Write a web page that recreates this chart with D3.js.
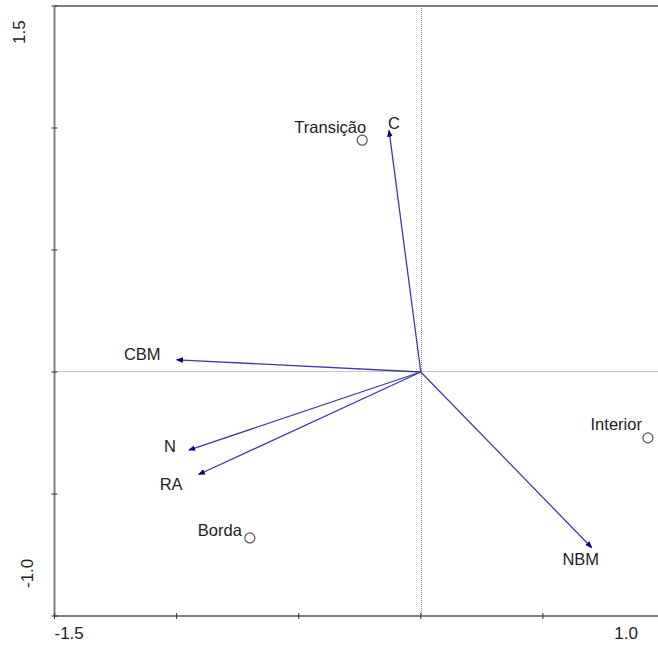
<!DOCTYPE html>
<html>
<head>
  <meta charset="utf-8">
  <title>Biplot</title>
  <script src="https://d3js.org/d3.v7.min.js"></script>
  <style>
    body { margin: 0; background: #fff; }
    svg { display: block; font-family: "Liberation Sans", Arial, sans-serif; }
  </style>
</head>
<body>
  <div id="chart"></div>
  <script>
    // environmental variables (arrows)
    var varNames = ["C", "CBM", "N", "RA", "NBM"];
    var varX = [-0.13, -1.0, -0.95, -0.91, 0.70];
    var varY = [0.99, 0.05, -0.32, -0.42, -0.72];

    // sites (circles)
    var siteNames = ["Transição", "Borda", "Interior"];
    var siteX = [-0.24, -0.70, 0.93];
    var siteY = [0.95, -0.68, -0.27];

    // axis ends and ticks
    var xDomain = [-1.5, 1.0];
    var yDomain = [-1.0, 1.5];
    var xTicks = [-1.5, -1.0, -0.5, 0, 0.5];
    var yTicks = [-1.0, -0.5, 0, 0.5, 1.0, 1.5];
    var xEndLabels = ["-1.5", "1.0"];
    var yEndLabels = ["-1.0", "1.5"];

    // label placement, px offsets from the point / arrow tip
    var labelPos = {
      "C": [-1, -1, "start"],
      "CBM": [-16, 0, "end"],
      "N": [-13, 2, "end"],
      "RA": [-16, 16, "end"],
      "NBM": [-11, 17, "middle"],
      "Transição": [4, -7, "end"],
      "Borda": [-8, -2, "end"],
      "Interior": [-6, -8, "end"]
    };

    function drawBiplot() {
      var width = 658, height = 646;
      var mLeft = 54.5, mTop = 6, mBottom = 616;

      var x = d3.scaleLinear().domain(xDomain).range([mLeft, mLeft + 2.5 * 244.2]);
      var y = d3.scaleLinear().domain(yDomain).range([mBottom, mTop]);

      var svg = d3.select("#chart").append("svg")
        .attr("width", width).attr("height", height);

      svg.append("defs").append("marker")
        .attr("id", "head")
        .attr("viewBox", "0 0 10 10")
        .attr("refX", 9).attr("refY", 5)
        .attr("markerWidth", 7).attr("markerHeight", 7)
        .attr("markerUnits", "userSpaceOnUse")
        .attr("orient", "auto")
        .append("path")
        .attr("d", "M0,1 L10,5 L0,9 Z")
        .attr("fill", "#000080");

      // zero lines (dotted)
      svg.append("line")
        .attr("x1", mLeft).attr("x2", width)
        .attr("y1", Math.round(y(0)) - 0.5).attr("y2", Math.round(y(0)) - 0.5)
        .attr("stroke", "#8a8a8a").attr("stroke-dasharray", "1,1");
      svg.append("line")
        .attr("x1", Math.round(x(0)) + 0.5).attr("x2", Math.round(x(0)) + 0.5)
        .attr("y1", mTop).attr("y2", mBottom)
        .attr("stroke", "#8a8a8a").attr("stroke-dasharray", "1,1");

      // frame: left, bottom, top
      var frame = svg.append("g").attr("stroke", "#808080").attr("stroke-width", 2);
      frame.append("line").attr("x1", mLeft).attr("x2", mLeft).attr("y1", mTop).attr("y2", mBottom);
      frame.append("line").attr("x1", mLeft).attr("x2", width).attr("y1", mBottom).attr("y2", mBottom);
      frame.append("line").attr("x1", mLeft).attr("x2", width).attr("y1", mTop).attr("y2", mTop);

      // ticks crossing the axes
      var ticks = svg.append("g").attr("stroke", "#333").attr("stroke-width", 1);
      ticks.selectAll(".xt").data(xTicks).enter().append("line")
        .attr("x1", d => x(d)).attr("x2", d => x(d))
        .attr("y1", mBottom - 3).attr("y2", mBottom + 3);
      ticks.selectAll(".yt").data(yTicks).enter().append("line")
        .attr("y1", d => y(d)).attr("y2", d => y(d))
        .attr("x1", mLeft - 3).attr("x2", mLeft + 3);

      // axis end labels
      var tl = svg.append("g").attr("font-size", 17).attr("fill", "#222");
      tl.append("text").attr("x", x(xDomain[0])).attr("y", 639).text(xEndLabels[0]);
      tl.append("text").attr("x", 638).attr("y", 639).attr("text-anchor", "end").text(xEndLabels[1]);
      tl.append("text").attr("transform", "translate(33,588) rotate(-90)").text(yEndLabels[0]);
      tl.append("text").attr("transform", "translate(25,44) rotate(-90)").text(yEndLabels[1]);

      // arrows
      var vars = varNames.map((n, i) => ({ name: n, x: varX[i], y: varY[i] }));
      svg.selectAll(".arrow").data(vars).enter().append("line")
        .attr("class", "arrow")
        .attr("x1", x(0)).attr("y1", y(0))
        .attr("x2", d => x(d.x)).attr("y2", d => y(d.y))
        .attr("stroke", "#3c3ca4").attr("stroke-width", 1.3)
        .attr("marker-end", "url(#head)");

      // sites
      var sites = siteNames.map((n, i) => ({ name: n, x: siteX[i], y: siteY[i] }));
      svg.selectAll(".site").data(sites).enter().append("circle")
        .attr("class", "site")
        .attr("cx", d => x(d.x)).attr("cy", d => y(d.y)).attr("r", 5)
        .attr("fill", "#fff").attr("stroke", "#555").attr("stroke-width", 1.2);

      // labels
      svg.selectAll(".lab").data(vars.concat(sites)).enter().append("text")
        .attr("class", "lab")
        .attr("x", d => x(d.x) + labelPos[d.name][0])
        .attr("y", d => y(d.y) + labelPos[d.name][1])
        .attr("text-anchor", d => labelPos[d.name][2])
        .attr("font-size", 16.5).attr("fill", "#222")
        .text(d => d.name);
    }

    drawBiplot();
  </script>
</body>
</html>
